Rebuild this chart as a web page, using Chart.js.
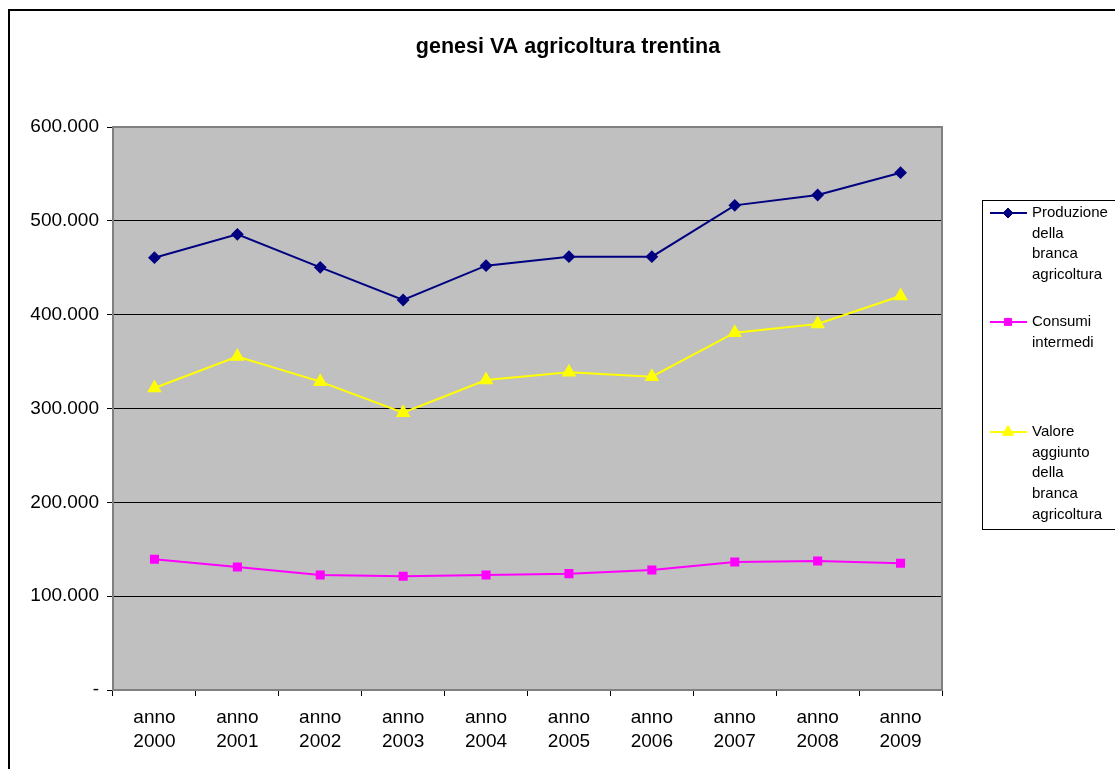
<!DOCTYPE html>
<html>
<head>
<meta charset="utf-8">
<script src="https://cdn.jsdelivr.net/npm/chart.js@4/dist/chart.umd.min.js"></script>
<style>
  html, body { margin: 0; padding: 0; background: #fff; }
  canvas { display: block; }
</style>
</head>
<body>
<canvas id="vaChart" width="1115" height="769"></canvas>
<script>
const anni = ['2000', '2001', '2002', '2003', '2004', '2005', '2006', '2007', '2008', '2009'];
const produzione = [460700, 485600, 450400, 415600, 452200, 461800, 461800, 516500, 527500, 551300];
const consumi = [139300, 131000, 122600, 121200, 122600, 124000, 127900, 136400, 137500, 135000];
const valoreAggiunto = [321900, 355300, 328600, 295600, 330400, 338600, 333900, 380800, 390000, 419900];
const yTicks = [0, 100000, 200000, 300000, 400000, 500000, 600000];

const fontFamily = "'Liberation Sans', Arial, sans-serif";
const plotGray = '#C0C0C0';
const borderGray = '#808080';

function migliaia(v) {
  if (v === 0) return '-';
  return String(v).replace(/\B(?=(\d{3})+(?!\d))/g, '.');
}

// frame, title, plot background and the boxed legend on the right
const excelLook = {
  id: 'excelLook',
  beforeDraw(chart) {
    const { ctx, chartArea: a } = chart;
    ctx.save();
    ctx.fillStyle = '#fff';
    ctx.fillRect(0, 0, chart.width, chart.height);
    ctx.fillStyle = plotGray;
    ctx.fillRect(a.left, a.top, a.right - a.left, a.bottom - a.top);
    ctx.strokeStyle = '#000';
    ctx.lineWidth = 2;
    ctx.strokeRect(9, 10, chart.width + 20, chart.height + 20);
    ctx.fillStyle = '#000';
    ctx.font = 'bold 21.5px ' + fontFamily;
    ctx.textAlign = 'center';
    ctx.textBaseline = 'middle';
    ctx.fillText('genesi VA agricoltura trentina', 568, 47);
    ctx.restore();
  },
  afterDraw(chart) {
    const { ctx, chartArea: a } = chart;
    ctx.save();
    ctx.strokeStyle = borderGray;
    ctx.lineWidth = 2;
    ctx.beginPath();
    ctx.moveTo(a.left, a.top);
    ctx.lineTo(a.right, a.top);
    ctx.lineTo(a.right, a.bottom);
    ctx.stroke();

    // legend box
    ctx.strokeStyle = '#000';
    ctx.lineWidth = 1;
    ctx.strokeRect(982.5, 200.5, 200, 329);
    const firstLine = [213, 322, 432];
    const lineStep = 20.6;
    ctx.font = '15px ' + fontFamily;
    ctx.textBaseline = 'middle';
    ctx.textAlign = 'left';
    chart.data.datasets.forEach((ds, i) => {
      const y = firstLine[i];
      ctx.strokeStyle = ds.borderColor;
      ctx.lineWidth = 2;
      ctx.beginPath();
      ctx.moveTo(990, y);
      ctx.lineTo(1027, y);
      ctx.stroke();
      ctx.fillStyle = ds.pointBackgroundColor;
      ctx.strokeStyle = ds.borderColor;
      ctx.lineWidth = 1;
      Chart.helpers.drawPoint(ctx, { pointStyle: ds.pointStyle, radius: ds.pointRadius, borderWidth: 1 }, 1008, y);
      ctx.fillStyle = '#000';
      ds.label.split(' ').forEach((w, j) => ctx.fillText(w, 1032, y + j * lineStep));
    });
    ctx.restore();
  }
};

new Chart(document.getElementById('vaChart'), {
  type: 'line',
  data: {
    labels: anni.map(a => ['anno', a]),
    datasets: [
      {
        label: 'Produzione della branca agricoltura',
        data: produzione,
        borderColor: '#000080',
        pointBackgroundColor: '#000080',
        pointStyle: 'rectRot',
        pointRadius: 5,
        borderWidth: 2
      },
      {
        label: 'Consumi intermedi',
        data: consumi,
        borderColor: '#FF00FF',
        pointBackgroundColor: '#FF00FF',
        pointStyle: 'rect',
        pointRadius: 5,
        borderWidth: 2
      },
      {
        label: 'Valore aggiunto della branca agricoltura',
        data: valoreAggiunto,
        borderColor: '#FFFF00',
        pointBackgroundColor: '#FFFF00',
        pointStyle: 'triangle',
        pointRadius: 6.5,
        borderWidth: 2
      }
    ]
  },
  options: {
    responsive: false,
    animation: false,
    layout: { padding: { top: 127, right: 173, bottom: 0, left: 0 } },
    plugins: {
      legend: { display: false },
      title: { display: false },
      tooltip: { enabled: false }
    },
    elements: { line: { tension: 0 }, point: { borderWidth: 1 } },
    scales: {
      x: {
        offset: true,
        afterFit: s => { s.height = 79; },
        grid: { offset: true, drawOnChartArea: false, drawTicks: true, tickLength: 6, tickColor: '#000' },
        border: { color: borderGray, width: 2 },
        ticks: {
          color: '#000',
          padding: 10,
          maxRotation: 0,
          autoSkip: false,
          font: { family: fontFamily, size: 19, lineHeight: 1.27 }
        }
      },
      y: {
        min: 0,
        max: 600000,
        afterFit: s => { s.width = 113; },
        afterBuildTicks: s => { s.ticks = yTicks.map(v => ({ value: v })); },
        grid: {
          color: ctx => (ctx.tick && ctx.tick.value === 0 ? borderGray : '#000'),
          lineWidth: 1,
          tickLength: 6,
          tickColor: '#000'
        },
        border: { color: borderGray, width: 2 },
        ticks: {
          color: '#000',
          padding: 8,
          callback: v => migliaia(v),
          font: { family: fontFamily, size: 19 }
        }
      }
    }
  },
  plugins: [excelLook]
});
</script>
</body>
</html>
